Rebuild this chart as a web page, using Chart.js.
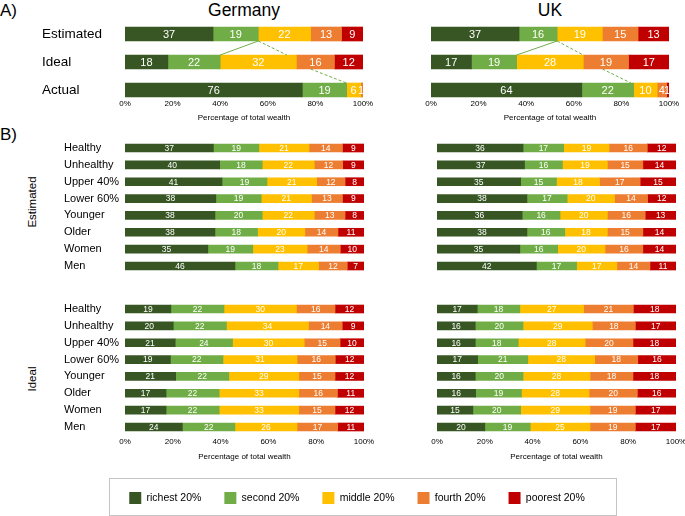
<!DOCTYPE html>
<html>
<head>
<meta charset="utf-8">
<script src="https://cdn.jsdelivr.net/npm/chart.js@4.4.1/dist/chart.umd.min.js"></script>
<style>
  body { margin: 0; background: #fff; font-family: "Liberation Sans", Arial, sans-serif; }
  #wrap { position: relative; width: 685px; height: 516px; overflow: hidden; }
  .box { position: absolute; }
  .txt { position: absolute; color: #000; white-space: nowrap; line-height: 1; }
  .mid { transform: translate(-50%, -50%); }
  .rot { transform: translate(-50%, -50%) rotate(-90deg); }
  #legendBox { position: absolute; left: 109px; top: 478px; width: 506px; height: 36px; border: 1px solid #c4c4c4; }
</style>
</head>
<body>
<div id="wrap">
  <div class="txt" style="left:0;top:2px;font-size:17px">A)</div>
  <div class="txt mid" style="left:244px;top:11px;font-size:17.5px">Germany</div>
  <div class="txt mid" style="left:550px;top:11px;font-size:17.5px">UK</div>
  <div class="txt" style="left:0;top:126px;font-size:17px">B)</div>
  <div class="txt rot" style="left:33px;top:202px;font-size:11.5px">Estimated</div>
  <div class="txt rot" style="left:33px;top:379px;font-size:11.5px">Ideal</div>

  <div class="box" style="left:0;top:0"><canvas id="topDE" width="380" height="130"></canvas></div>
  <div class="box" style="left:380px;top:0"><canvas id="topUK" width="305" height="130"></canvas></div>
  <div class="box" style="left:0;top:130px"><canvas id="estDE" width="380" height="150"></canvas></div>
  <div class="box" style="left:380px;top:130px"><canvas id="estUK" width="305" height="150"></canvas></div>
  <div class="box" style="left:0;top:290px"><canvas id="idealDE" width="380" height="175"></canvas></div>
  <div class="box" style="left:380px;top:290px"><canvas id="idealUK" width="305" height="175"></canvas></div>

  <div id="legendBox"></div>
  <div class="box" style="left:103px;top:469px"><canvas id="legend" width="508" height="100"></canvas></div>
</div>

<script>
'use strict';

const groups = ['richest 20%', 'second 20%', 'middle 20%', 'fourth 20%', 'poorest 20%'];
const colors = ['#375623', '#70AD47', '#FFC000', '#ED7D31', '#C00000'];
const xTicks = [0, 20, 40, 60, 80, 100];

// panel A: one array per quintile, rows = Estimated, Ideal, Actual
const overviewRows = ['Estimated', 'Ideal', 'Actual'];
const germanyOverview = [
  [37, 18, 76],
  [19, 22, 19],
  [22, 32, 6],
  [13, 16, 1],
  [9, 12, 0]
];
const ukOverview = [
  [37, 17, 64],
  [16, 19, 22],
  [19, 28, 10],
  [15, 19, 4],
  [13, 17, 1]
];

// guide lines between bars: [fromRow, toRow, fromPct, toPct, dashed]
const germanyGuides = [[0, 1, 56, 40, false], [0, 1, 56, 68, true], [1, 2, 78, 93, true]];
const ukGuides = [[0, 1, 53, 36, false], [0, 1, 53, 64, true], [1, 2, 72, 84, true]];

// panel B
const subgroups = ['Healthy', 'Unhealthy', 'Upper 40%', 'Lower 60%', 'Younger', 'Older', 'Women', 'Men'];
const germanyEstimated = [
  [37, 40, 41, 38, 38, 38, 35, 46],
  [19, 18, 19, 19, 20, 18, 19, 18],
  [21, 22, 21, 21, 22, 20, 23, 17],
  [14, 12, 12, 13, 13, 14, 14, 12],
  [9, 9, 8, 9, 8, 11, 10, 7]
];
const ukEstimated = [
  [36, 37, 35, 38, 36, 38, 35, 42],
  [17, 16, 15, 17, 16, 16, 16, 17],
  [19, 19, 18, 20, 20, 18, 20, 17],
  [16, 15, 17, 14, 16, 15, 16, 14],
  [12, 14, 15, 12, 13, 14, 14, 11]
];
const germanyIdeal = [
  [19, 20, 21, 19, 21, 17, 17, 24],
  [22, 22, 24, 22, 22, 22, 22, 22],
  [30, 34, 30, 31, 29, 33, 33, 26],
  [16, 14, 15, 16, 15, 16, 15, 17],
  [12, 9, 10, 12, 12, 11, 12, 11]
];
const ukIdeal = [
  [17, 16, 16, 17, 16, 16, 15, 20],
  [18, 20, 18, 21, 20, 19, 20, 19],
  [27, 29, 28, 28, 28, 28, 29, 25],
  [21, 18, 20, 18, 18, 20, 19, 19],
  [18, 17, 18, 16, 18, 16, 17, 17]
];

Chart.defaults.font.family = '"Liberation Sans", Arial, sans-serif';
Chart.defaults.color = '#000';

// white value labels in the middle of each segment
const segmentLabels = {
  id: 'segmentLabels',
  afterDatasetsDraw(chart, args, opts) {
    const {ctx, chartArea} = chart;
    ctx.save();
    ctx.fillStyle = '#fff';
    ctx.font = opts.size + 'px "Liberation Sans", Arial, sans-serif';
    ctx.textAlign = 'center';
    ctx.textBaseline = 'middle';
    chart.data.datasets.forEach((ds, di) => {
      chart.getDatasetMeta(di).data.forEach((bar, i) => {
        const v = ds.raw[i];
        if (v <= 0) return;
        const x0 = Math.min(bar.base, chartArea.right);
        const x1 = Math.min(bar.x, chartArea.right);
        ctx.fillText(v, Math.min((x0 + x1) / 2, chartArea.right - 2), bar.y + 0.5);
      });
    });
    ctx.restore();
  }
};

// green guide lines in panel A
const guideLines = {
  id: 'guideLines',
  afterDatasetsDraw(chart, args, opts) {
    if (!opts.lines) return;
    const {ctx} = chart;
    const xs = chart.scales.x;
    const bars = chart.getDatasetMeta(0).data;
    ctx.save();
    ctx.strokeStyle = '#70AD47';
    ctx.lineWidth = 1;
    opts.lines.forEach(([r0, r1, p0, p1, dashed]) => {
      const a = bars[r0], b = bars[r1];
      ctx.setLineDash(dashed ? [3, 2] : []);
      ctx.beginPath();
      ctx.moveTo(xs.getPixelForValue(p0), a.y + a.height / 2);
      ctx.lineTo(xs.getPixelForValue(p1), b.y - b.height / 2);
      ctx.stroke();
    });
    ctx.restore();
  }
};

function makeChart(id, rows, series, o) {
  // rows are drawn as shares of their own total (100% stacked)
  const sums = rows.map((r, i) => series.reduce((s, vals) => s + Math.max(vals[i], 0), 0));
  return new Chart(document.getElementById(id), {
    type: 'bar',
    data: {
      labels: rows,
      datasets: series.map((vals, k) => ({
        label: groups[k],
        raw: vals,
        data: vals.map((v, i) => Math.max(v, 0) / sums[i] * 100),
        backgroundColor: colors[k],
        barThickness: o.bar,
        clip: {left: 0, right: 0, top: false, bottom: false}
      }))
    },
    options: {
      indexAxis: 'y',
      responsive: false,
      animation: false,
      layout: {padding: o.pad},
      plugins: {
        legend: {display: false},
        tooltip: {enabled: false},
        segmentLabels: {size: o.valueSize},
        guideLines: {lines: o.guides}
      },
      scales: {
        x: {
          stacked: true,
          min: 0,
          max: 100,
          display: o.xAxis,
          afterBuildTicks: s => { s.ticks = xTicks.map(v => ({value: v})); },
          afterFit: s => { s.height = o.xHeight; s.paddingLeft = 0; s.paddingRight = 0; },
          grid: {display: false, drawTicks: false},
          border: {display: false},
          ticks: {callback: v => v + '%', padding: o.tickPad, font: {size: 8}, maxRotation: 0},
          title: {display: true, text: 'Percentage of total wealth', font: {size: 8}, padding: {top: 0, bottom: o.titlePad}}
        },
        y: {
          stacked: true,
          offset: false,
          display: o.yLabels,
          afterFit: s => { s.width = o.yWidth; },
          grid: {display: false, drawTicks: false},
          border: {display: false},
          ticks: {crossAlign: 'far', padding: 0, font: {size: o.labelSize}}
        }
      }
    },
    plugins: [segmentLabels, guideLines]
  });
}

makeChart('topDE', overviewRows, germanyOverview, {
  bar: 14, valueSize: 11, guides: germanyGuides, xAxis: true, xHeight: 40, tickPad: 9, titlePad: 7,
  yLabels: true, yWidth: 83, labelSize: 13.5, pad: {left: 42, right: 17, top: 34, bottom: 0}
});
makeChart('topUK', overviewRows, ukOverview, {
  bar: 14, valueSize: 11, guides: ukGuides, xAxis: true, xHeight: 40, tickPad: 9, titlePad: 7,
  yLabels: false, yWidth: 0, labelSize: 13.5, pad: {left: 51, right: 16, top: 34, bottom: 0}
});
makeChart('estDE', subgroups, germanyEstimated, {
  bar: 8, valueSize: 8.5, xAxis: false, xHeight: 0, tickPad: 0, titlePad: 0,
  yLabels: true, yWidth: 61, labelSize: 11, pad: {left: 64, right: 16, top: 18, bottom: 14}
});
makeChart('estUK', subgroups, ukEstimated, {
  bar: 8, valueSize: 8.5, xAxis: false, xHeight: 0, tickPad: 0, titlePad: 0,
  yLabels: false, yWidth: 0, labelSize: 11, pad: {left: 57, right: 9, top: 18, bottom: 14}
});
makeChart('idealDE', subgroups, germanyIdeal, {
  bar: 8, valueSize: 8.5, xAxis: true, xHeight: 38, tickPad: 10, titlePad: 3.5,
  yLabels: true, yWidth: 61, labelSize: 11, pad: {left: 64, right: 16, top: 19, bottom: 0}
});
makeChart('idealUK', subgroups, ukIdeal, {
  bar: 8, valueSize: 8.5, xAxis: true, xHeight: 38, tickPad: 10, titlePad: 3.5,
  yLabels: false, yWidth: 0, labelSize: 11, pad: {left: 57, right: 9, top: 19, bottom: 0}
});

// legend only
new Chart(document.getElementById('legend'), {
  type: 'bar',
  data: {
    labels: [],
    datasets: groups.map((g, k) => ({label: g, data: [], backgroundColor: colors[k]}))
  },
  options: {
    responsive: false,
    animation: false,
    plugins: {
      tooltip: {enabled: false},
      legend: {
        position: 'top',
        onClick: null,
        labels: {boxWidth: 12, boxHeight: 12, padding: 23, font: {size: 10.5}, color: '#000'}
      }
    },
    scales: {x: {display: false}, y: {display: false}}
  }
});
</script>
</body>
</html>
